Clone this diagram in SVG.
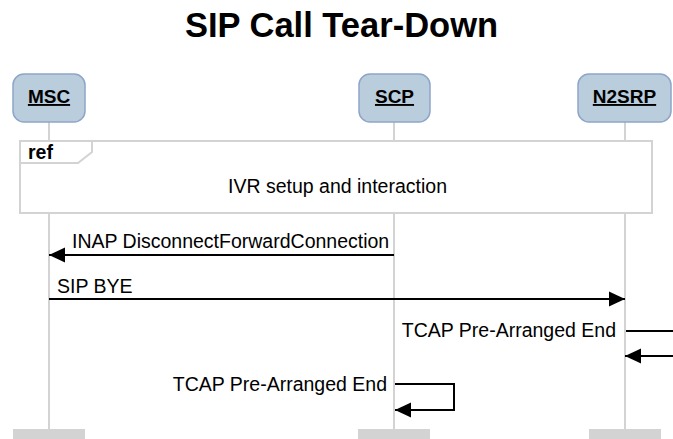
<svg xmlns="http://www.w3.org/2000/svg" width="673" height="439" viewBox="0 0 673 439">
<style>
text{font-family:"Liberation Sans",Arial,sans-serif;fill:#000}
.title{font-size:34.5px;font-weight:bold}
.actor rect.head{fill:#b9cddd;stroke:#8fa5c8;stroke-width:1.5}
.actor text{font-size:19px;font-weight:bold;text-decoration:underline}
.life{stroke:#d3d3d3;stroke-width:2}
.foot{fill:#d3d3d3}
.msg{stroke:#000;stroke-width:2;fill:none}
.lbl{font-size:19.5px}
.frame{fill:#fff;stroke:#d3d3d3;stroke-width:2}
</style>
<defs>
<marker id="ah" markerWidth="16" markerHeight="16" viewBox="0 0 16 16" refX="16" refY="8" orient="auto" markerUnits="userSpaceOnUse">
<path d="M0,0.5 L16,8 L0,15.5 z" fill="#000"/>
</marker>
</defs>
<text class="title" x="341.5" y="37" text-anchor="middle">SIP Call Tear-Down</text>

<g id="MSC" class="actor">
<line class="life" x1="49" y1="122" x2="49" y2="429"/>
<rect class="head" x="13" y="74" width="72" height="48" rx="11"/>
<text x="49" y="103" text-anchor="middle">MSC</text>
<rect class="foot" x="13" y="429" width="72" height="10"/>
</g>
<g id="SCP" class="actor">
<line class="life" x1="394" y1="122" x2="394" y2="429"/>
<rect class="head" x="359" y="74" width="71" height="48" rx="11"/>
<text x="394.5" y="103" text-anchor="middle">SCP</text>
<rect class="foot" x="358" y="429" width="72" height="10"/>
</g>
<g id="N2SRP" class="actor">
<line class="life" x1="625" y1="122" x2="625" y2="429"/>
<rect class="head" x="578" y="74" width="93" height="48" rx="11"/>
<text x="624.5" y="103" text-anchor="middle">N2SRP</text>
<rect class="foot" x="589" y="429" width="72" height="10"/>
</g>

<g id="ref">
<rect class="frame" x="20" y="141" width="632" height="72"/>
<path d="M20,163 L78,163 L92,152 L92,141" fill="none" stroke="#d3d3d3" stroke-width="2"/>
<text x="28" y="159" font-size="19.5" font-weight="bold">ref</text>
<text class="lbl" x="337.5" y="193" text-anchor="middle">IVR setup and interaction</text>
</g>

<g id="connectors">
<line class="msg" x1="394" y1="255" x2="49" y2="255" marker-end="url(#ah)"/>
<text class="lbl" x="72" y="248">INAP DisconnectForwardConnection</text>
<line class="msg" x1="49" y1="299" x2="625" y2="299" marker-end="url(#ah)"/>
<text class="lbl" x="57" y="293">SIP BYE</text>
<line class="msg" x1="626" y1="331" x2="673" y2="331"/>
<text class="lbl" x="616" y="337" text-anchor="end">TCAP Pre-Arranged End</text>
<line class="msg" x1="673" y1="356" x2="625" y2="356" marker-end="url(#ah)"/>
<path class="msg" d="M395,384 L454,384 L454,410 L395,410" marker-end="url(#ah)"/>
<text class="lbl" x="387" y="391" text-anchor="end">TCAP Pre-Arranged End</text>
</g>
</svg>
